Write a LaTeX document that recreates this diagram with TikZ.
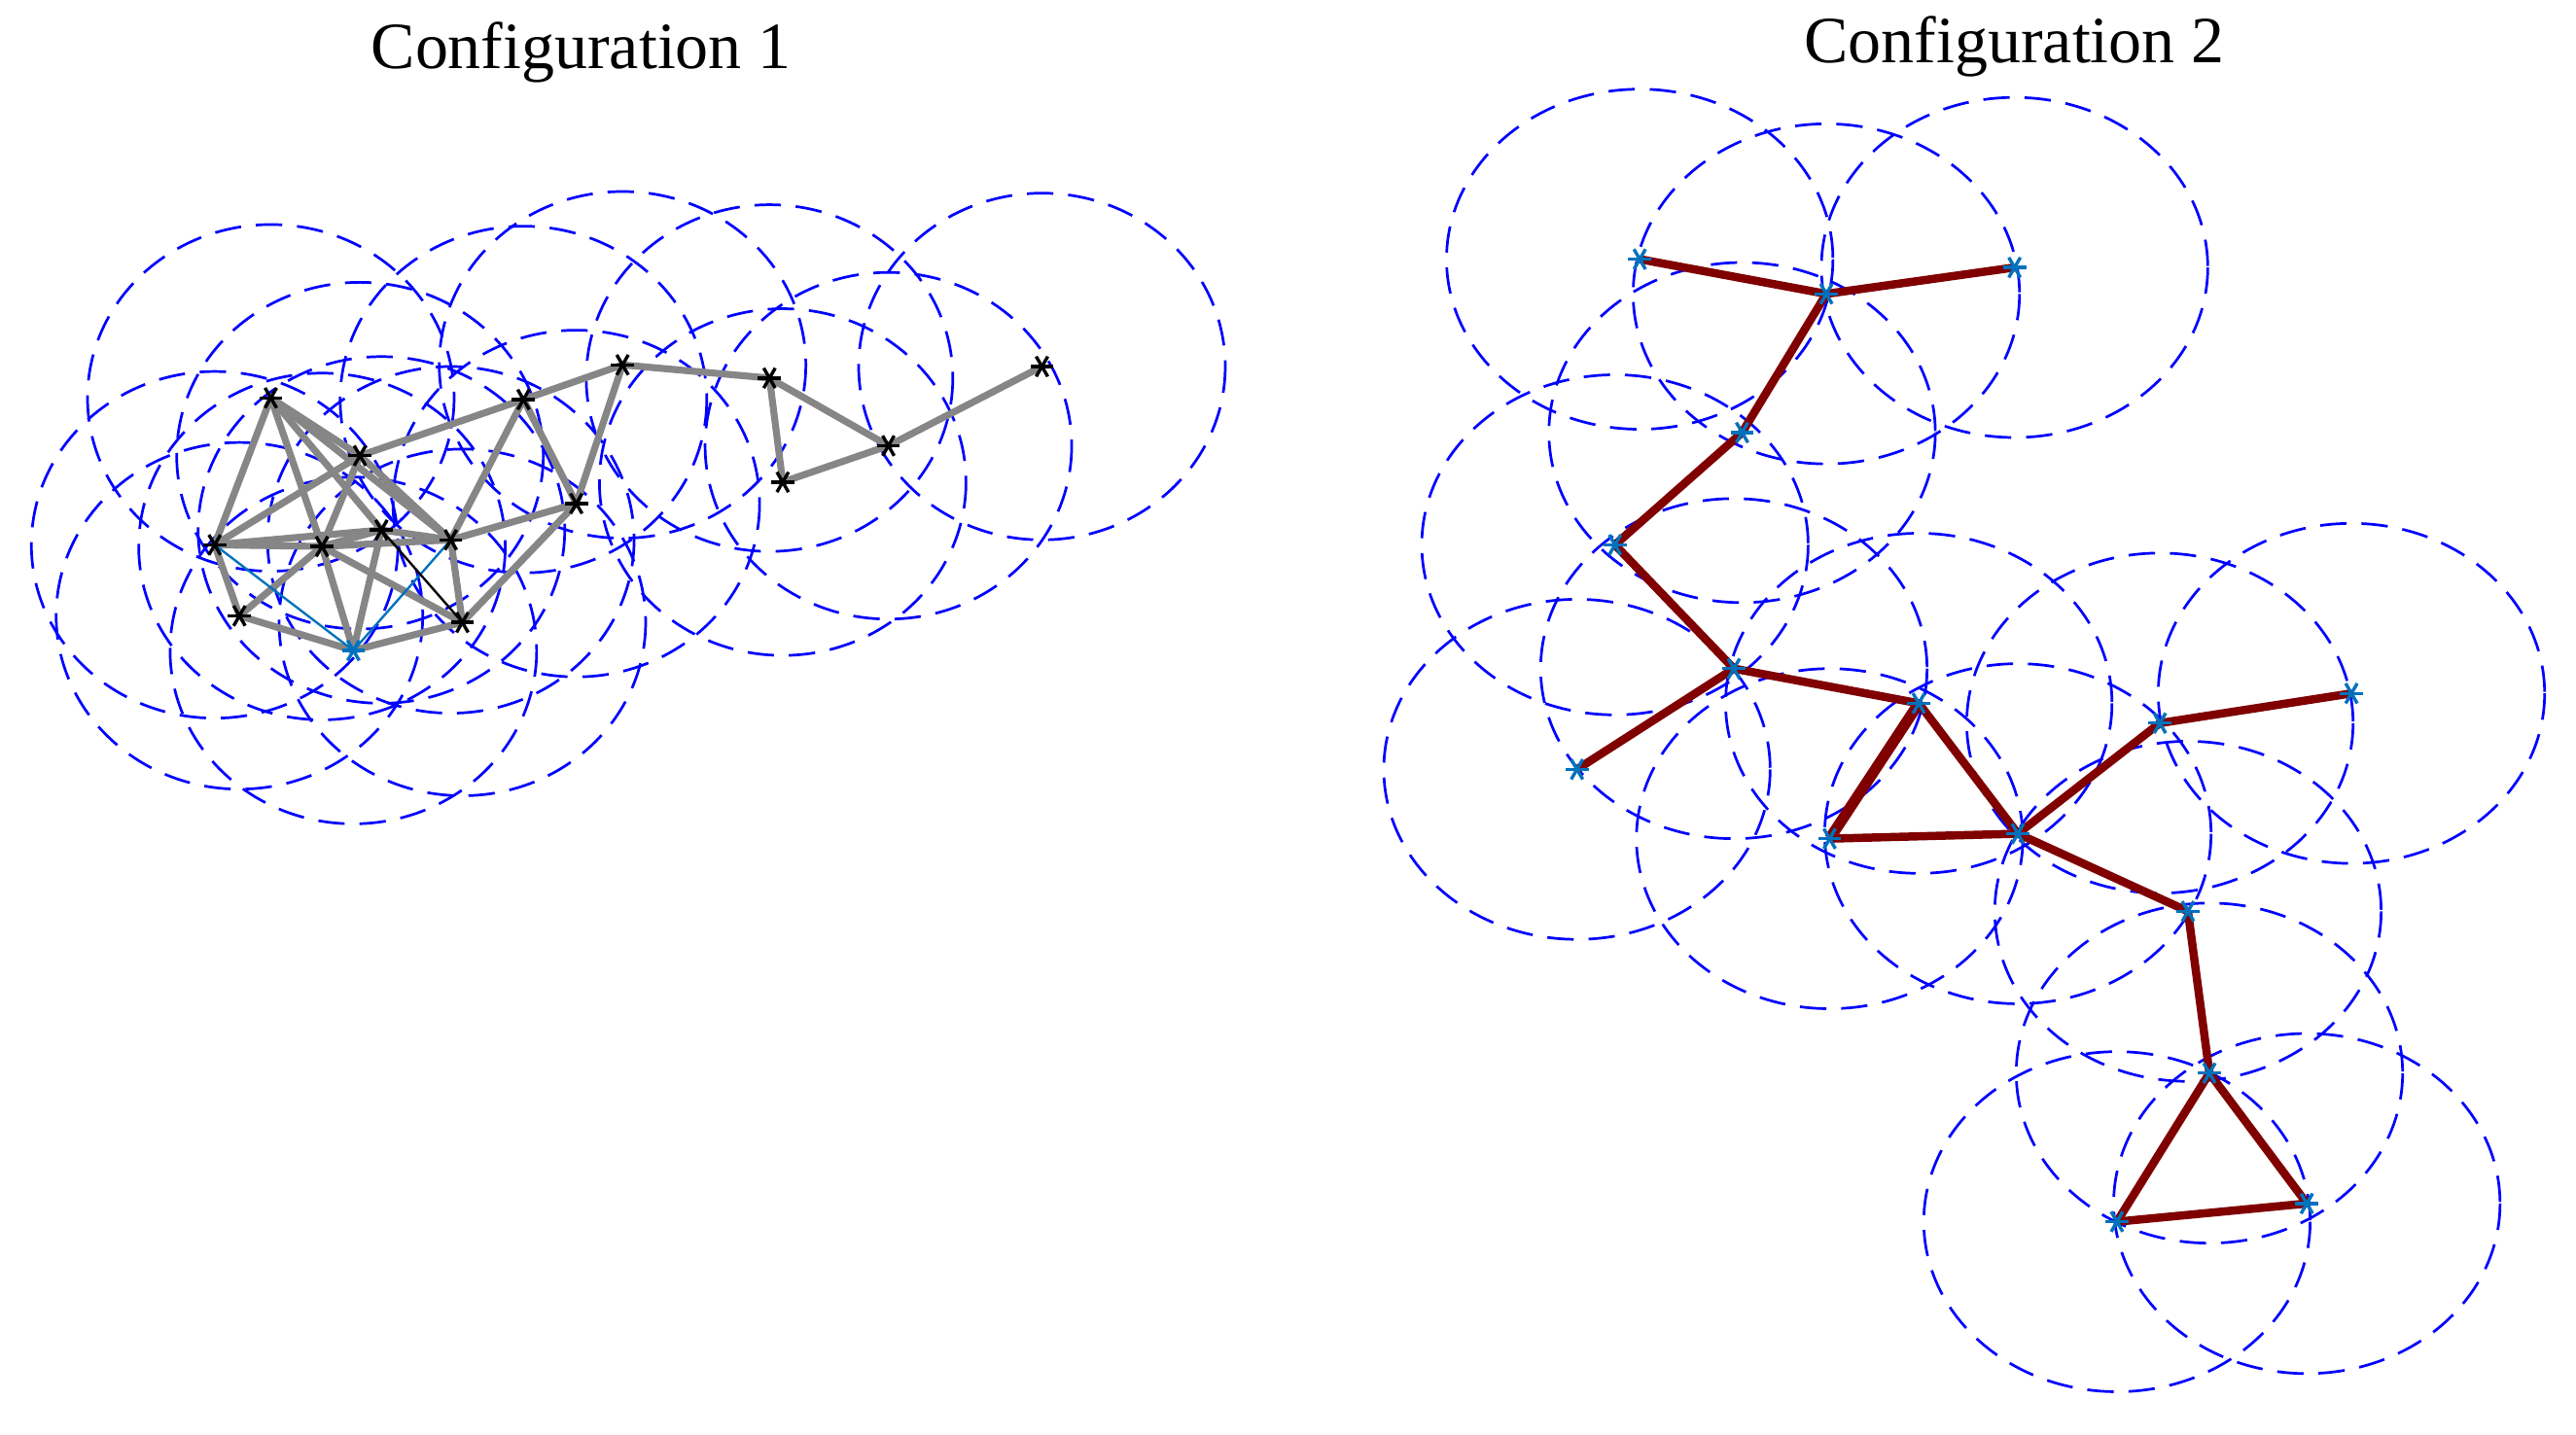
\documentclass[tikz,border=0pt]{standalone}
\usepackage{fontspec}
\setmainfont{Liberation Serif}
\begin{document}
\begin{tikzpicture}[x=0.5pt,y=-0.5pt,
  rng/.style={blue,dash pattern=on 8pt off 4.5pt,line width=0.8pt},
  ge/.style={gray!95,line width=2.1pt},
  re/.style={red!50!black,line width=2.5pt},
  cy/.style={color={rgb,255:red,0;green,114;blue,189},line width=0.7pt},
  bk/.style={black,line width=0.7pt},
  pics/star/.style={code={\foreach \a in {0,60,120}{\draw[#1,line width=1pt] (\a:7) -- (\a+180:7);}}}]
\useasboundingbox (0,0) rectangle (1560,869);
\node[font=\fontsize{20}{24}\selectfont] (t1) at (352,32) {Configuration 1};
\node[font=\fontsize{20}{24}\selectfont] (t2) at (1220,28) {Configuration 2};
% left nodes
\foreach \n/\x/\y in {a/164/241,b/218/276,c/317/242,d/377/221,e/466/229,f/130/330,g/195/331,h/231/321,i/273/327,j/349/305,k/145/373,l/214/394,m/280/377,n/474/292,o/538/270,p/631/222}
  {\coordinate (\n) at (\x,\y); \draw[rng] (\n) ellipse [x radius=111,y radius=105];}
\foreach \u/\v in {a/f,a/g,a/b,a/h,a/i,b/c,b/f,b/g,b/i,c/d,c/i,c/j,d/e,d/j,f/h,f/g,f/k,g/k,g/l,g/m,g/h,g/i,h/l,h/i,i/j,i/m,j/m,k/l,l/m,e/n,e/o,n/o,o/p}
  \draw[ge] (\u) -- (\v);
\draw[cy] (f) -- (l) -- (i);
\draw[bk] (h) -- (m);
\foreach \n in {a,b,c,d,e,f,g,h,i,j,k,m,n,o,p} \pic at (\n) {star=black};
\pic at (l) {star={color={rgb,255:red,0;green,114;blue,189}}};
% right nodes
\foreach \n/\x/\y in {A/993/157,B/1106/178,C/1220/162,D/1055/262,E/978/330,F/1050/405,G/955/466,H/1162/426,I/1108/508,J/1222/505,K/1308/438,L/1424/420,M/1325/552,N/1338/650,O/1282/740,P/1397/729}
  {\coordinate (\n) at (\x,\y); \draw[rng] (\n) ellipse [x radius=117,y radius=103];}
\foreach \u/\v in {A/B,B/C,B/D,D/E,E/F,F/G,F/H,H/J,I/J,J/K,K/L,J/M,M/N,N/O,N/P,O/P}
  \draw[re] (\u) -- (\v);
\draw[re,line width=3.3pt] (H) -- (I);
\foreach \n in {A,B,C,D,E,F,G,H,I,J,K,L,M,N,O,P} \pic at (\n) {star={color={rgb,255:red,0;green,114;blue,189}}};
\end{tikzpicture}
\end{document}
